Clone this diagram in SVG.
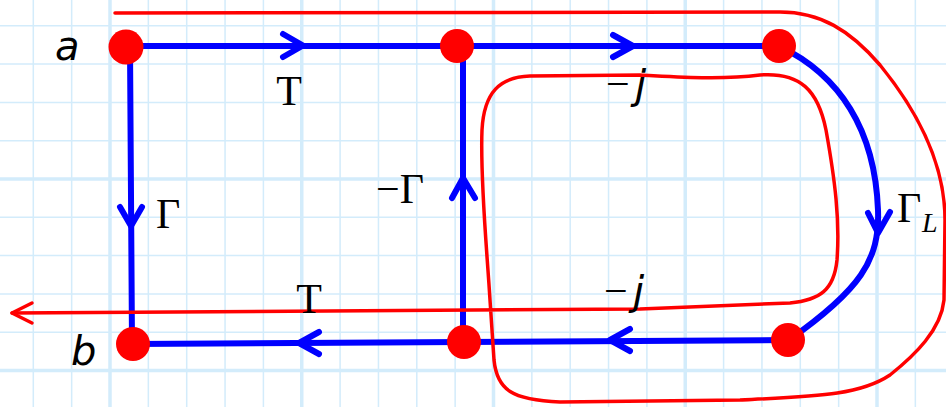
<svg xmlns="http://www.w3.org/2000/svg" width="946" height="407" viewBox="0 0 946 407">
<style>
.grid{stroke:#d3ecfb;stroke-width:1.5;fill:none}
.gridb{stroke:#d3ecfb;stroke-width:3.5;fill:none}
.edge{stroke:#0000ff;stroke-width:6;fill:none;stroke-linecap:round;stroke-linejoin:round}
.red{stroke:#ff0000;stroke-width:3.5;fill:none;stroke-linecap:round;stroke-linejoin:round}
.node{fill:#ff0000}
.serif{font-family:"Liberation Serif","Times New Roman",serif;font-size:42px;fill:#000}
.ital{font-family:"DejaVu Sans","Noto Sans",sans-serif;font-style:oblique;font-size:40px;fill:#000}
</style>
<rect width="946" height="407" fill="#ffffff"/>
<g id="grid">
<path class="grid" d="M33.3 0V407M71.65 0V407M148.35 0V407M186.7 0V407M225.05 0V407M263.4 0V407M340.1 0V407M378.45 0V407M416.8 0V407M455.15 0V407M531.85 0V407M570.2 0V407M608.55 0V407M646.9 0V407M723.6 0V407M761.95 0V407M800.3 0V407M838.65 0V407M915.35 0V407M0 25.8H946M0 64.1H946M0 102.4H946M0 140.7H946M0 217.3H946M0 255.6H946M0 293.9H946M0 332.2H946"/>
<path class="gridb" d="M110 0V407M301.75 0V407M493.5 0V407M685.25 0V407M877 0V407M0 179H946M0 370.5H946"/>
</g>
<g id="connectors">
<path id="e-a-top" class="edge" d="M126 46H779"/>
<path class="edge" d="M283 34L303 45.5L283 57M613 35L633 46L613 57"/>
<path id="e-a-b" class="edge" d="M130 47L132 344"/>
<path class="edge" d="M120 207L131 226L142 207"/>
<path id="e-mid" class="edge" d="M463 342V46"/>
<path class="edge" d="M452 198L463 178L475 198"/>
<path id="e-bottom" class="edge" d="M789 340L464 342L133 344"/>
<path class="edge" d="M319 332L299 343L319 354M630 329L610 340L630 351"/>
<path id="e-right" class="edge" d="M779 46C840 75 875 130 878 210C880 260 860 290 789 340"/>
<path class="edge" d="M868 213L878 233L890 212"/>
<path id="red-path" class="red" d="M115 13L780 12C820 12 850 30 880 65C915 108 945 160 945 220L944 300C941 330 915 355 890 375C860 395 820 396 740 400L560 402C512 400 497 390 494 360L490 300C487 250 480 180 482 130C484 92 500 77 530 76L640 75C680 77 720 80 760 75C800 72 818 90 826 130C835 180 840 220 837 260C834 290 820 300 790 303L640 309L12 313"/>
<path class="red" d="M32 303L12 313L32 323"/>
</g>
<g id="node-a"><circle class="node" cx="126" cy="47" r="17.5"/><text class="ital" x="55" y="60">a</text></g>
<g id="node-top-mid"><circle class="node" cx="457" cy="46" r="17"/></g>
<g id="node-top-right"><circle class="node" cx="779" cy="46" r="17"/></g>
<g id="node-b"><circle class="node" cx="133" cy="344" r="17"/><text class="ital" x="71" y="365">b</text></g>
<g id="node-bottom-mid"><circle class="node" cx="464" cy="342" r="17"/></g>
<g id="node-bottom-right"><circle class="node" cx="788" cy="340" r="17"/></g>
<g id="labels">
<text class="serif" x="289" y="105" text-anchor="middle">T</text>
<text class="serif" x="309" y="313" text-anchor="middle">T</text>
<text class="serif" x="156" y="228">Γ</text>
<text class="serif" x="376" y="203">−Γ</text>
<text class="serif" x="606" y="98">−</text><text class="ital" x="635" y="99">j</text>
<text class="serif" x="604" y="305">−</text><text class="ital" x="633" y="305">j</text>
<text class="serif" x="897" y="222">Γ</text>
<text x="922" y="232" style="font-family:'Liberation Serif',serif;font-style:italic;font-size:28px">L</text>
</g>
</svg>
